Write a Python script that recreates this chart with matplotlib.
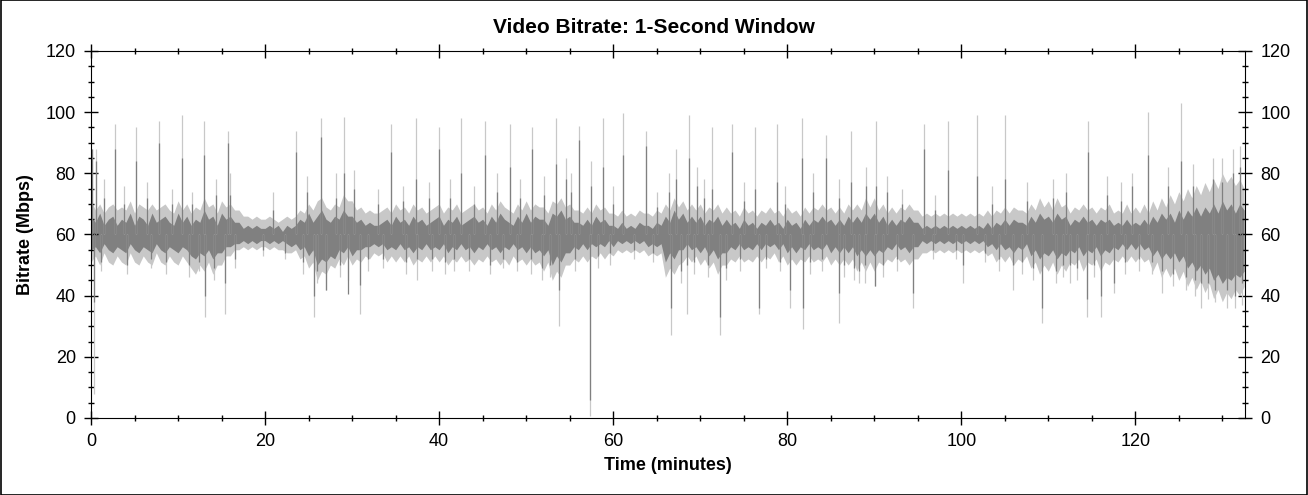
import matplotlib
matplotlib.use("Agg")
import matplotlib.pyplot as plt
import numpy as np
from matplotlib.patches import Rectangle

plt.rcParams['font.family'] = ['Liberation Sans', 'DejaVu Sans']

# half-minute grid for the band envelopes
t_grid = np.arange(266) * 0.5

dark_hi = [66, 64, 67, 63, 65, 66, 63, 65, 64, 67, 63, 66, 65, 63, 67, 64, 65, 66, 64, 63,
           67, 64, 66, 63, 65, 64, 68, 65, 66, 63, 67, 65, 66, 64, 64, 62, 63, 62, 63, 62,
           62, 63, 62, 63, 61, 63, 62, 63, 65, 64, 67, 64, 66, 68, 65, 64, 66, 65, 68, 66,
           66, 64, 65, 63, 64, 63, 63, 64, 65, 63, 66, 64, 65, 63, 66, 64, 65, 63, 64, 65,
           66, 63, 65, 64, 66, 63, 64, 65, 66, 64, 65, 63, 66, 64, 67, 65, 64, 63, 66, 64,
           67, 64, 66, 65, 65, 63, 67, 66, 68, 65, 66, 64, 64, 63, 65, 63, 66, 64, 65, 63,
           63, 62, 64, 62, 63, 62, 64, 63, 63, 62, 64, 63, 66, 64, 68, 65, 67, 64, 66, 64,
           66, 63, 65, 64, 66, 63, 65, 63, 64, 62, 65, 63, 64, 62, 64, 63, 65, 63, 64, 62,
           65, 63, 64, 62, 65, 63, 65, 64, 66, 64, 65, 63, 65, 63, 66, 64, 66, 64, 67, 65,
           67, 64, 66, 63, 65, 63, 65, 64, 66, 64, 64, 62, 63, 62, 63, 62, 63, 62, 63, 62,
           63, 62, 63, 62, 63, 62, 64, 62, 64, 63, 65, 63, 65, 64, 64, 63, 66, 64, 67, 65,
           66, 64, 67, 65, 66, 63, 65, 64, 66, 64, 65, 63, 65, 64, 65, 63, 64, 63, 65, 63,
           64, 63, 65, 63, 66, 64, 67, 65, 67, 64, 68, 65, 68, 66, 69, 66, 69, 67, 70, 67,
           71, 68, 70, 67, 70, 68]
dark_lo = [55, 56, 54, 57, 55, 54, 56, 55, 54, 57, 55, 54, 56, 55, 54, 57, 55, 54, 56, 55,
           54, 56, 55, 53, 52, 54, 53, 55, 52, 54, 54, 56, 56, 57, 57, 58, 57, 58, 57, 58,
           58, 57, 58, 57, 58, 57, 56, 57, 55, 56, 53, 55, 50, 52, 51, 53, 52, 55, 54, 56,
           53, 55, 55, 56, 56, 57, 56, 57, 55, 56, 55, 57, 55, 56, 54, 56, 55, 57, 55, 56,
           55, 57, 54, 56, 55, 57, 55, 56, 54, 56, 55, 57, 55, 56, 54, 56, 55, 57, 55, 56,
           54, 56, 54, 55, 53, 55, 50, 53, 51, 54, 54, 56, 55, 57, 55, 57, 56, 57, 56, 58,
           56, 58, 57, 58, 57, 58, 57, 58, 56, 57, 56, 57, 51, 54, 52, 55, 55, 57, 55, 56,
           54, 56, 53, 55, 52, 54, 54, 56, 55, 57, 55, 56, 55, 57, 55, 57, 56, 57, 55, 57,
           54, 56, 54, 56, 55, 57, 55, 56, 55, 57, 54, 56, 54, 56, 54, 56, 53, 55, 53, 55,
           53, 55, 54, 56, 55, 57, 55, 56, 54, 56, 56, 58, 57, 58, 57, 58, 57, 58, 57, 58,
           57, 58, 57, 58, 57, 58, 56, 57, 55, 57, 55, 56, 54, 56, 55, 57, 53, 55, 52, 54,
           53, 55, 52, 54, 53, 55, 54, 56, 53, 55, 54, 56, 53, 55, 54, 56, 55, 57, 55, 57,
           55, 57, 55, 56, 53, 55, 52, 54, 52, 54, 51, 53, 49, 51, 48, 50, 47, 49, 45, 47,
           44, 46, 45, 47, 46, 48]
light_hi = [71, 68, 70, 67, 69, 70, 68, 69, 68, 71, 67, 70, 69, 68, 70, 68, 69, 70, 68, 67,
            71, 68, 70, 67, 69, 68, 72, 69, 70, 67, 71, 69, 70, 68, 68, 66, 66, 65, 66, 65,
            65, 66, 65, 64, 65, 66, 65, 66, 68, 67, 70, 68, 71, 72, 69, 68, 70, 69, 73, 71,
            71, 68, 69, 67, 68, 67, 67, 68, 69, 67, 70, 68, 69, 67, 70, 68, 69, 67, 68, 69,
            70, 67, 69, 68, 70, 67, 68, 69, 70, 68, 69, 67, 70, 68, 71, 69, 68, 67, 70, 68,
            71, 68, 70, 69, 69, 67, 71, 70, 72, 69, 70, 68, 68, 67, 69, 67, 70, 68, 69, 67,
            67, 66, 68, 66, 67, 66, 68, 67, 67, 66, 68, 67, 70, 68, 72, 69, 71, 68, 70, 68,
            70, 67, 69, 68, 70, 67, 69, 67, 68, 66, 69, 67, 68, 66, 68, 67, 69, 67, 68, 66,
            69, 67, 68, 66, 69, 67, 69, 68, 70, 68, 69, 67, 69, 67, 70, 68, 70, 68, 72, 69,
            72, 68, 70, 67, 69, 67, 69, 68, 70, 68, 68, 66, 67, 66, 67, 66, 67, 66, 67, 66,
            67, 66, 67, 66, 67, 66, 68, 66, 68, 67, 69, 67, 69, 68, 68, 67, 70, 68, 72, 69,
            71, 68, 72, 69, 70, 67, 69, 68, 70, 68, 69, 67, 69, 68, 70, 67, 68, 67, 70, 67,
            69, 67, 70, 67, 71, 68, 72, 69, 73, 70, 74, 71, 75, 72, 76, 73, 77, 74, 78, 75,
            80, 77, 79, 76, 78, 75]
light_lo = [51, 53, 50, 54, 51, 50, 53, 51, 50, 54, 51, 50, 53, 51, 50, 54, 51, 50, 53, 51,
            50, 53, 51, 49, 47, 50, 48, 51, 47, 50, 50, 53, 53, 55, 55, 56, 55, 56, 55, 56,
            56, 55, 56, 55, 55, 54, 54, 55, 52, 53, 49, 51, 45, 48, 47, 50, 49, 52, 50, 53,
            50, 52, 51, 53, 52, 54, 53, 54, 51, 53, 51, 53, 51, 53, 50, 52, 51, 53, 51, 53,
            51, 53, 50, 52, 51, 53, 51, 52, 50, 52, 51, 53, 51, 52, 50, 52, 50, 53, 51, 52,
            50, 52, 50, 51, 48, 51, 45, 48, 46, 50, 50, 52, 51, 53, 51, 53, 52, 54, 52, 54,
            53, 55, 54, 55, 54, 55, 54, 55, 53, 54, 53, 54, 46, 49, 47, 50, 51, 53, 51, 53,
            50, 52, 49, 51, 47, 50, 50, 52, 51, 53, 51, 52, 51, 53, 51, 53, 52, 54, 51, 53,
            50, 52, 50, 52, 51, 53, 51, 52, 51, 53, 50, 52, 50, 52, 50, 52, 48, 51, 48, 51,
            48, 51, 50, 52, 51, 53, 51, 52, 50, 52, 52, 54, 54, 55, 54, 55, 54, 55, 54, 55,
            54, 55, 54, 55, 54, 55, 53, 54, 51, 53, 51, 53, 50, 52, 51, 53, 49, 51, 47, 50,
            48, 51, 47, 50, 48, 51, 50, 52, 48, 51, 50, 52, 48, 51, 50, 52, 51, 53, 51, 53,
            51, 53, 51, 52, 48, 51, 46, 49, 46, 49, 45, 48, 43, 46, 42, 45, 41, 44, 39, 42,
            38, 41, 39, 42, 40, 43]

# tall peaks: time (min), light top, dark top
peak_t = [0.1, 0.6, 2.7, 5.2, 7.85, 10.5, 13.0, 15.7, 23.5, 26.4, 29.1, 34.5,
          37.3, 40.0, 42.5, 45.3, 48.1, 50.7, 53.4, 56.1, 57.4, 58.8, 61.1,
          63.8, 67.2, 68.7, 71.3, 73.7, 76.3, 78.8, 81.7, 84.4, 87.3, 90.2,
          95.7, 98.5, 101.8, 105.0, 114.6, 121.5, 125.3]
peak_light = [88, 88, 96, 95, 97, 99, 97, 94, 94, 98, 98.5, 96,
              98, 95, 98, 97, 96, 95, 98, 95.5, 84, 98, 99.6,
              94, 88, 99, 95, 96, 95, 96, 98, 92.5, 94, 97,
              96, 97, 99, 99, 97, 100, 103]
peak_dark = [88, 84, 88, 84, 90, 85, 86, 90, 87, 92, 80, 87,
             78, 88, 80, 86, 82, 88, 83, 91, 76, 82, 86,
             89, 78, 85, 75, 87, 75, 77, 85, 85, 77, 76,
             88, 81, 79, 78, 87, 86, 84]

# smaller upward bursts: time, light top, dark top
bump_t = [1.5, 3.8, 6.4, 9.3, 11.6, 14.4, 16.0, 20.9, 24.8, 28.2, 30.2, 33.0,
          35.8, 38.8, 41.2, 44.0, 46.6, 49.3, 52.0, 54.6, 55.2, 60.0, 65.0,
          66.4, 69.6, 70.4, 75.0, 79.8, 83.0, 86.0, 89.0, 91.5, 93.2, 97.0,
          103.5, 107.5, 110.5, 112.0, 116.8, 118.3, 119.6, 123.8, 126.6,
          128.9, 130.0, 131.2, 132.0]
bump_light = [78, 76, 77, 75, 74, 78, 80, 74, 79, 80, 81, 75,
              76, 77, 78, 76, 80, 78, 79, 85, 80, 76, 74,
              80, 82, 78, 77, 76, 80, 78, 82, 79, 75, 73,
              76, 77, 78, 80, 79, 77, 80, 82, 83,
              85, 85, 88, 89]
bump_dark = [72, 70, 72, 70, 70, 73, 73, 68, 74, 72, 75, 70,
             71, 72, 72, 70, 74, 72, 73, 78, 74, 70, 69,
             74, 76, 72, 71, 70, 74, 72, 76, 74, 70, 68,
             70, 71, 72, 74, 73, 71, 76, 76, 76,
             78, 77, 80, 82]

# deep dips: time, light bottom, dark bottom
dip_t = [0.35, 13.05, 15.4, 25.6, 27.0, 29.5, 30.9, 37.5, 41.7, 50.5, 53.8,
         57.35, 66.7, 68.5, 72.3, 76.8, 80.3, 81.8, 85.9, 88.2, 88.9, 90.1,
         94.5, 100.2, 106.0, 109.3, 112.5, 114.4, 116.1, 117.6, 123.1, 127.6,
         129.2, 130.5, 131.5, 132.3]
dip_light = [8, 33, 34, 33, 42, 45, 34, 45, 48, 47, 30,
             0.5, 27, 34, 27, 34, 36, 29, 31, 44, 44, 43,
             36, 44, 42, 31, 44, 33, 33, 41, 41, 36,
             38, 36, 36, 37]
dip_dark = [38, 40, 44, 40, 42, 40.5, 43.5, 52, 52, 52, 42,
            6, 36, 50, 33, 36, 42, 36, 41, 48, 50, 43,
            41, 50, 50, 36, 50, 39, 40, 44, 48, 44,
            42, 42, 40, 44]

# shallow dips: time, light bottom, dark bottom
sdip_t = [1.2, 4.1, 6.9, 8.6, 11.2, 12.4, 14.1, 16.6, 19.8, 22.3, 24.3, 26.0,
          28.6, 31.8, 33.6, 36.2, 39.2, 40.7, 43.4, 45.9, 47.3, 49.0, 51.8,
          52.7, 55.6, 58.2, 59.6, 62.4, 64.6, 67.8, 69.3, 70.9, 73.0, 74.6,
          77.6, 79.2, 82.6, 84.0, 86.5, 87.7, 91.0, 92.6, 96.8, 99.4, 102.7,
          104.3, 107.0, 108.2, 110.9, 111.7, 113.3, 115.3, 118.8, 120.4, 121.9,
          124.3, 125.8, 126.9, 128.4]
sdip_light = [48, 47, 49, 47, 46, 48, 45, 49, 53, 52, 47, 44,
              46, 48, 49, 47, 48, 47, 48, 47, 49, 48, 45,
              46, 48, 49, 50, 52, 51, 44, 47, 46, 45, 48,
              49, 48, 47, 48, 46, 45, 46, 48, 52, 52, 51,
              48, 47, 45, 44, 46, 45, 46, 47, 48, 47,
              43, 42, 40, 39]
sdip_dark = [51, 50, 52, 51, 50, 51, 49, 52, 55, 54, 51, 48,
             50, 52, 52, 51, 52, 51, 52, 50, 52, 51, 49,
             50, 52, 53, 54, 55, 54, 48, 51, 50, 49, 52,
             52, 51, 51, 52, 50, 49, 50, 52, 55, 55, 54,
             52, 51, 49, 48, 50, 49, 50, 51, 52, 51,
             47, 46, 45, 44]

light = '#c8c8c8'
dark = '#808080'

fig = plt.figure(figsize=(13.08, 4.95), dpi=100)
ax = fig.add_axes([0.0696, 0.1556, 0.8822, 0.7414])

# light series first, dark series on top
ax.fill_between(t_grid, light_lo, light_hi, color=light, lw=0)
ax.vlines(peak_t, 60, peak_light, color=light, lw=0.9)
ax.vlines(bump_t, 60, bump_light, color=light, lw=0.9)
ax.vlines(dip_t, dip_light, 60, color=light, lw=0.9)
ax.vlines(sdip_t, sdip_light, 60, color=light, lw=0.9)

ax.fill_between(t_grid, dark_lo, dark_hi, color=dark, lw=0)
ax.vlines(peak_t, 60, peak_dark, color=dark, lw=0.9)
ax.vlines(bump_t, 60, bump_dark, color=dark, lw=0.9)
ax.vlines(dip_t, dip_dark, 60, color=dark, lw=0.9)
ax.vlines(sdip_t, sdip_dark, 60, color=dark, lw=0.9)

ax.set_xlim(0, 132.6)
ax.set_ylim(0, 120)
ax.set_xticks(np.arange(0, 121, 20))
ax.set_xticks(np.arange(0, 133, 5), minor=True)
ax.set_yticks(np.arange(0, 121, 20))
ax.set_yticks(np.arange(0, 121, 5), minor=True)
ax.tick_params(which='both', direction='inout', top=True, right=True,
               labelright=True, labelsize=13, width=1, pad=6)
ax.tick_params(which='major', length=10)
ax.tick_params(which='minor', length=5)

fig.suptitle('Video Bitrate: 1-Second Window', x=0.5, y=0.944, va='center',
             fontsize=15, fontweight='bold')
ax.set_xlabel('Time (minutes)', fontsize=13, fontweight='bold', labelpad=5)
ax.set_ylabel('Bitrate (Mbps)', fontsize=13, fontweight='bold', labelpad=8)

# thin frame round the whole picture
fig.patches.append(Rectangle((0.0005, 0.001), 0.999, 0.998, transform=fig.transFigure,
                             fill=False, edgecolor='black', lw=1.2))

fig.savefig('out.png', dpi=100)
